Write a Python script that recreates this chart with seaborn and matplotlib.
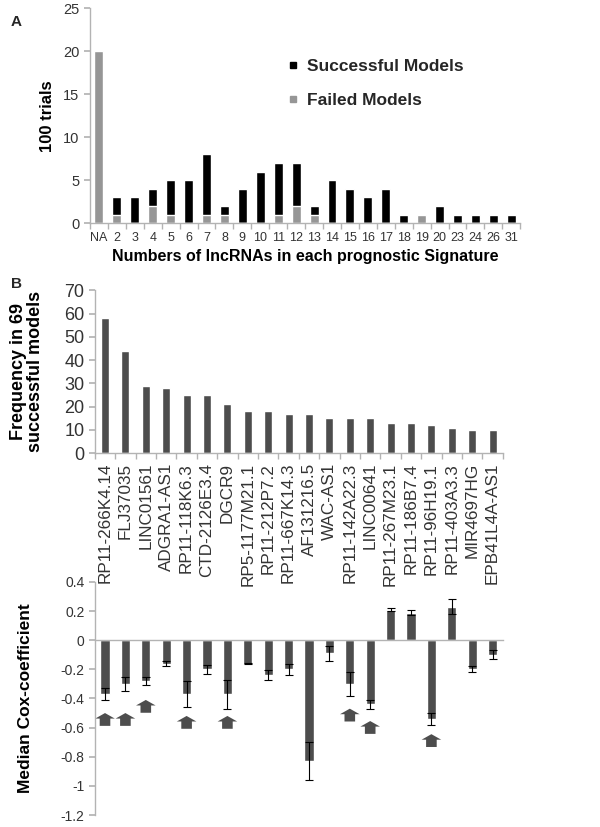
import numpy as np
import pandas as pd
import matplotlib
matplotlib.use("Agg")
import matplotlib.pyplot as plt
import seaborn as sns
from matplotlib.patches import Polygon
from matplotlib.lines import Line2D

# ---------------- data ----------------
sig_sizes = ["NA", "2", "3", "4", "5", "6", "7", "8", "9", "10", "11", "12",
             "13", "14", "15", "16", "17", "18", "19", "20", "23", "24", "26", "31"]
successful = [0, 2, 3, 2, 4, 5, 7, 1, 4, 6, 6, 5, 1, 5, 4, 3, 4, 1, 0, 2, 1, 1, 1, 1]
failed = [20, 1, 0, 2, 1, 0, 1, 1, 0, 0, 1, 2, 1, 0, 0, 0, 0, 0, 1, 0, 0, 0, 0, 0]

genes = ["RP11-266K4.14", "FLJ37035", "LINC01561", "ADGRA1-AS1", "RP11-118K6.3",
         "CTD-2126E3.4", "DGCR9", "RP5-1177M21.1", "RP11-212P7.2", "RP11-667K14.3",
         "AF131216.5", "WAC-AS1", "RP11-142A22.3", "LINC00641", "RP11-267M23.1",
         "RP11-186B7.4", "RP11-96H19.1", "RP11-403A3.3", "MIR4697HG", "EPB41L4A-AS1"]
frequency = [58, 44, 29, 28, 25, 25, 21, 18, 18, 17, 17, 15, 15, 15, 13, 13, 12, 11, 10, 10]

median_cox = [-0.37, -0.30, -0.28, -0.16, -0.37, -0.20, -0.37, -0.16, -0.24, -0.20,
              -0.83, -0.09, -0.30, -0.44, 0.21, 0.19, -0.54, 0.23, -0.20, -0.10]
cox_err = [0.04, 0.05, 0.03, 0.02, 0.09, 0.03, 0.10, 0.005, 0.035, 0.04,
           0.13, 0.05, 0.08, 0.03, 0.01, 0.015, 0.04, 0.05, 0.02, 0.03]

arrow_gene_idx = [0, 1, 2, 4, 6, 12, 13, 16]
arrow_tips = [-0.50, -0.50, -0.41, -0.52, -0.52, -0.47, -0.555, -0.645]

# ---------------- style ----------------
sns.set_theme(style="white")
plt.rcParams["font.family"] = ["Liberation Sans", "DejaVu Sans"]
AXC = "#b3b3b3"
TXT = "#333333"
BAR = "#4d4d4d"

fig = plt.figure(figsize=(6, 8.27), dpi=100)
axA = fig.add_axes([0.150, 0.730, 0.717, 0.260])
axC = fig.add_axes([0.158, 0.0145, 0.680, 0.2818])
axB = fig.add_axes([0.158, 0.452, 0.680, 0.197])
axC.set_facecolor("none")
axB.set_facecolor("none")


def style_axes(ax):
    for s in ["top", "right"]:
        ax.spines[s].set_visible(False)
    for s in ["left", "bottom"]:
        ax.spines[s].set_color(AXC)
        ax.spines[s].set_linewidth(1.0)
    ax.tick_params(axis="y", which="both", direction="out", length=4,
                   color=AXC, labelcolor=TXT, left=True)


# ---------------- panel A ----------------
dfA = pd.DataFrame({"size": sig_sizes,
                    "total": np.add(successful, failed),
                    "failed": failed})
sns.barplot(data=dfA, x="size", y="total", color="black", width=0.5,
            saturation=1, ax=axA)
sns.barplot(data=dfA, x="size", y="failed", color="#969696", width=0.5,
            saturation=1, ax=axA)
style_axes(axA)
axA.set_ylim(0, 25)
axA.set_yticks(range(0, 26, 5))
axA.set_xlim(-0.5, len(sig_sizes) - 0.5)
axA.tick_params(axis="y", labelsize=10.5)
axA.tick_params(axis="x", which="major", length=0, labelsize=9, labelcolor=TXT, pad=6)
axA.set_xticks(np.arange(len(sig_sizes) + 1) - 0.5, minor=True)
axA.tick_params(axis="x", which="minor", bottom=True, length=4, color=AXC, direction="out")
axA.set_xlabel("Numbers of lncRNAs in each prognostic Signature",
               fontsize=11.5, fontweight="bold", labelpad=4, color="black")
axA.set_ylabel("100 trials", fontsize=12, fontweight="bold", color="black")
axA.yaxis.set_label_coords(-0.082, 0.5)

handles = [Line2D([], [], marker="s", ls="", color="black", markersize=5),
           Line2D([], [], marker="s", ls="", color="#969696", markersize=5)]
axA.legend(handles, ["Successful Models", "Failed Models"], loc="upper left",
           bbox_to_anchor=(0.44, 0.805), frameon=False,
           prop={"weight": "bold", "size": 12.5}, handlelength=0.6,
           handletextpad=0.5, labelspacing=1.1, borderpad=0)

# ---------------- panel B ----------------
dfB = pd.DataFrame({"gene": genes, "freq": frequency})
sns.barplot(data=dfB, x="gene", y="freq", color=BAR, width=0.4,
            saturation=1, ax=axB)
style_axes(axB)
axB.set_ylim(0, 70)
axB.set_yticks(range(0, 71, 10))
axB.set_xlim(-0.5, len(genes) - 0.5)
axB.tick_params(axis="y", labelsize=13)
axB.tick_params(axis="x", which="major", length=0, labelsize=12.3, labelcolor=TXT,
                rotation=90, pad=7)
axB.set_xticks(np.arange(len(genes) + 1) - 0.5, minor=True)
axB.tick_params(axis="x", which="minor", bottom=True, length=4, color=AXC, direction="out")
axB.set_xlabel("")
axB.set_ylabel("Frequency in 69\nsuccessful models", fontsize=13,
               fontweight="bold", color="black", linespacing=0.95)
axB.yaxis.set_label_coords(-0.125, 0.5)

# ---------------- panel C ----------------
dfC = pd.DataFrame({"gene": genes, "cox": median_cox, "err": cox_err})
sns.barplot(data=dfC, x="gene", y="cox", color=BAR, width=0.45,
            saturation=1, ax=axC)
xs = np.arange(len(genes))
axC.errorbar(xs, dfC["cox"], yerr=dfC["err"], fmt="none", ecolor="black",
             elinewidth=0.8, capsize=3, capthick=0.8)
style_axes(axC)
axC.spines["bottom"].set_position(("data", 0))
axC.set_ylim(-1.2, 0.4)
yt = np.round(np.arange(-1.2, 0.41, 0.2), 1)
axC.set_yticks(yt)
axC.set_yticklabels([("%g" % v) if abs(v) > 1e-9 else "0" for v in yt])
axC.tick_params(axis="y", labelsize=10)
axC.set_xlim(-0.5, len(genes) - 0.5)
axC.set_xticks([])
axC.set_xlabel("")
axC.set_ylabel("Median Cox-coefficient", fontsize=12.5, fontweight="bold", color="black")
axC.yaxis.set_label_coords(-0.152, 0.5)

# block up-arrows under highlighted genes
hw, sw, hh, tot = 0.48, 0.26, 0.038, 0.088
for i, tip in zip(arrow_gene_idx, arrow_tips):
    pts = [(i, tip), (i + hw, tip - hh), (i + sw, tip - hh), (i + sw, tip - tot),
           (i - sw, tip - tot), (i - sw, tip - hh), (i - hw, tip - hh)]
    axC.add_patch(Polygon(pts, closed=True, facecolor=BAR, edgecolor="none",
                          transform=axC.transData))

# panel letters
fig.text(0.018, 1 - 22 / 827, "A", fontsize=11, fontweight="bold", va="center")
fig.text(0.018, 1 - 284 / 827, "B", fontsize=11, fontweight="bold", va="center")

fig.savefig("out.png", dpi=100)
